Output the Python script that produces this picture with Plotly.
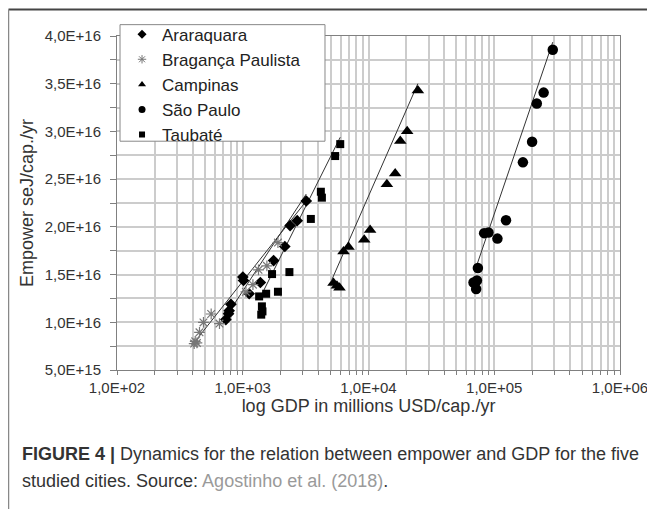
import numpy as np
import plotly.graph_objects as go

# ---------------- data ----------------
arar_gdp = [3200, 2710, 2380, 2160, 1760, 1380, 1125, 1002, 1014, 805, 780, 771, 734]
arar_emp = [2.271e16, 2.065e16, 2.013e16, 1.794e16, 1.647e16, 1.417e16, 1.299e16,
            1.474e16, 1.438e16, 1.188e16, 1.122e16, 1.090e16, 1.028e16]

brag_gdp = [1905, 1556, 1334, 1205, 1060, 561, 487, 653, 453, 419, 432, 411]
brag_emp = [1.835e16, 1.592e16, 1.550e16, 1.394e16, 1.318e16, 1.087e16, 0.999e16,
            0.986e16, 0.895e16, 0.800e16, 0.784e16, 0.777e16]

camp_gdp = [24700, 20300, 17900, 16300, 14000, 10300, 9250, 6930, 6330, 5270, 5610, 5880]
camp_emp = [3.43e16, 3.003e16, 2.90e16, 2.56e16, 2.446e16, 1.968e16, 1.866e16,
            1.789e16, 1.741e16, 1.411e16, 1.383e16, 1.362e16]

sp_gdp = [292000, 247000, 218000, 200000, 169000, 124000, 106000, 90000, 83100,
          74100, 72800, 68400, 71800]
sp_emp = [3.856e16, 3.407e16, 3.292e16, 2.891e16, 2.676e16, 2.07e16, 1.877e16,
          1.94e16, 1.934e16, 1.568e16, 1.438e16, 1.417e16, 1.348e16]

taub_gdp = [5960, 5430, 4180, 4260, 3480, 2350, 1710, 1905, 1535, 1350, 1420, 1435, 1403]
taub_emp = [2.867e16, 2.742e16, 2.368e16, 2.306e16, 2.083e16, 1.526e16, 1.505e16,
            1.32e16, 1.299e16, 1.271e16, 1.167e16, 1.114e16, 1.08e16]

# trend lines as drawn in the original (start / end)
arar_trend_gdp = [734, 3200]
arar_trend_emp = [1.057e16, 2.344e16]
brag_trend_gdp = [411, 3200]
brag_trend_emp = [0.787e16, 2.271e16]
camp_trend_gdp = [5110, 24700]
camp_trend_emp = [1.446e16, 3.501e16]
sp_trend_gdp = [73600, 292000]
sp_trend_emp = [1.62e16, 3.936e16]
taub_trend_gdp = [1350, 5960]
taub_trend_emp = [1.237e16, 2.939e16]

series_names = ["Araraquara", "Bragança Paulista", "Campinas", "São Paulo", "Taubaté"]

x_tick_vals = [1e2, 1e3, 1e4, 1e5, 1e6]
x_tick_text = ["1,0E+02", "1,0E+03", "1,0E+04", "1,0E+05", "1,0E+06"]
y_tick_vals = [5e15, 1e16, 1.5e16, 2e16, 2.5e16, 3e16, 3.5e16, 4e16]
y_tick_text = ["5,0E+15", "1,0E+16", "1,5E+16", "2,0E+16", "2,5E+16", "3,0E+16", "3,5E+16", "4,0E+16"]

# ---------------- figure ----------------
FONT = "Liberation Sans, Arial, sans-serif"
TXT = "#333333"
fig = go.Figure()

symbols = ["diamond", "asterisk-open", "triangle-up", "circle", "square"]
sizes = [9, 9, 11, 10.5, 8]
colors = ["black", "#777777", "black", "black", "black"]
legend_sizes = [7, 7, 7, 7, 6]

data = [(arar_gdp, arar_emp), (brag_gdp, brag_emp), (camp_gdp, camp_emp),
        (sp_gdp, sp_emp), (taub_gdp, taub_emp)]
trends = [(arar_trend_gdp, arar_trend_emp), (brag_trend_gdp, brag_trend_emp),
          (camp_trend_gdp, camp_trend_emp), (sp_trend_gdp, sp_trend_emp),
          (taub_trend_gdp, taub_trend_emp)]

for tx, ty in trends:
    fig.add_trace(go.Scatter(x=tx, y=ty, mode="lines",
                             line=dict(color="#333333", width=1), showlegend=False,
                             hoverinfo="skip"))

for (gx, ey), name, sym, sz, col in zip(data, series_names, symbols, sizes, colors):
    fig.add_trace(go.Scatter(x=gx, y=ey, mode="markers", name=name, showlegend=False,
                             marker=dict(symbol=sym, size=sz, color=col,
                                         line=dict(width=1.2 if "open" in sym else 0, color=col))))

# legend entries (small symbols as in the original legend)
for name, sym, sz, col in zip(series_names, symbols, legend_sizes, colors):
    fig.add_trace(go.Scatter(x=[None], y=[None], mode="markers", name=name, legendgroup=name,
                             marker=dict(symbol=sym, size=sz, color=col,
                                         line=dict(width=1 if "open" in sym else 0, color=col))))

# minor log positions for grid / ticks
minor_x = []
for d in range(2, 6):
    for m in range(1, 10):
        minor_x.append(m * 10 ** d)
minor_x.append(1e6)
minor_x_text = [x_tick_text[x_tick_vals.index(v)] if v in x_tick_vals else "" for v in minor_x]

y_all = list(np.arange(5e15, 4.0001e16, 2.5e15))
y_all_text = [y_tick_text[y_tick_vals.index(v)] if v in y_tick_vals else "" for v in y_all]

fig.update_xaxes(type="log", range=[2, 6], tickvals=minor_x, ticktext=minor_x_text,
                 ticks="outside", ticklen=4, tickcolor="#808080",
                 showgrid=True, gridcolor="#cccccc", gridwidth=1.5,
                 showline=True, linecolor="#808080", linewidth=1, mirror=True,
                 tickfont=dict(family=FONT, size=15, color=TXT),
                 title=dict(text="log GDP in millions USD/cap./yr",
                            font=dict(family=FONT, size=18, color=TXT), standoff=4),
                 zeroline=False, automargin=False)
fig.update_yaxes(range=[5e15, 4e16], tickvals=y_all, ticktext=y_all_text,
                 ticks="outside", ticklen=6, tickcolor="#808080",
                 showgrid=True, gridcolor="#cccccc", gridwidth=1.5,
                 showline=True, linecolor="#808080", linewidth=1, mirror=True,
                 tickfont=dict(family=FONT, size=15, color=TXT), ticklabelstandoff=6,
                 title=dict(text="Empower seJ/cap./yr",
                            font=dict(family=FONT, size=18, color=TXT), standoff=6),
                 zeroline=False, automargin=False)

fig.update_layout(
    width=647, height=501,
    margin=dict(l=109, r=35, t=27.5, b=138.5, autoexpand=False),
    paper_bgcolor="white", plot_bgcolor="white",
    font=dict(family=FONT, color=TXT),
    legend=dict(x=0.01, y=1.058, xanchor="left", yanchor="top",
                bgcolor="rgba(0,0,0,0)", borderwidth=0,
                font=dict(family=FONT, size=17, color="#222222"),
                itemwidth=30, tracegroupgap=0),
    showlegend=True,
)

# legend frame
fig.add_shape(type="rect", xref="paper", yref="paper", x0=0.006, x1=0.4135, y0=0.685, y1=1.034,
              line=dict(color="#888888", width=1), fillcolor="white", layer="above")

# figure frame (top and left rules)
fig.add_shape(type="line", xref="paper", yref="paper", x0=-0.2157, x1=1.07, y0=1.079, y1=1.079,
              line=dict(color="#444444", width=2))
fig.add_shape(type="line", xref="paper", yref="paper", x0=-0.2157, x1=-0.2157, y0=1.079, y1=-0.42,
              line=dict(color="#888888", width=1.5))

# caption
fig.add_annotation(xref="paper", yref="paper", x=-0.193, y=-0.252, xanchor="left", yanchor="middle",
                   showarrow=False, align="left",
                   text="<b>FIGURE 4 |</b> Dynamics for the relation between empower and GDP for the five",
                   font=dict(family=FONT, size=18, color=TXT))
fig.add_annotation(xref="paper", yref="paper", x=-0.193, y=-0.333, xanchor="left", yanchor="middle",
                   showarrow=False, align="left",
                   text="studied cities. Source: <span style='color:#9a9a9a'>Agostinho et al. (2018)</span>.",
                   font=dict(family=FONT, size=18, color=TXT))

fig.write_html("out.html")
